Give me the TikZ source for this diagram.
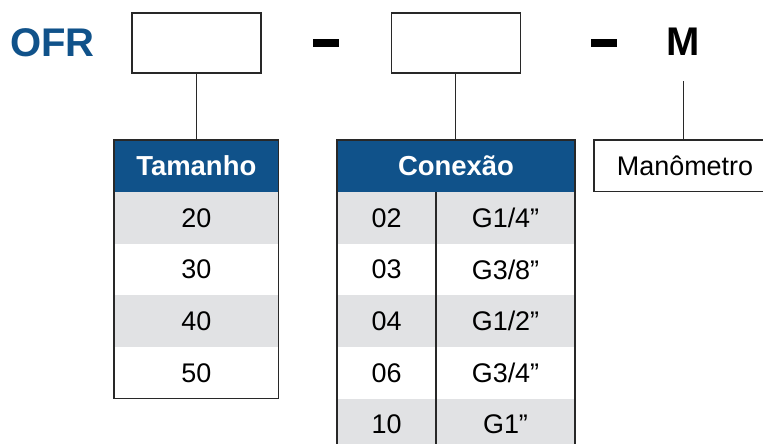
\documentclass[tikz,border=0pt]{standalone}
\usepackage{fontspec}
\setmainfont{Liberation Sans}
\definecolor{hblue}{RGB}{16,82,138}
\definecolor{rowgray}{RGB}{225,226,228}
\definecolor{linec}{RGB}{40,40,40}
\newcommand\bigfont{\fontsize{30}{32}\selectfont\bfseries}
\newcommand\hdrfont{\fontsize{20.6}{24}\selectfont\bfseries}
\newcommand\cellfont{\fontsize{20.2}{24}\selectfont}
\begin{document}
\begin{tikzpicture}[x=0.75pt,y=-0.75pt,
  slot/.style={draw=linec, line width=0.9pt, fill=white, minimum width=129*0.75pt, minimum height=60*0.75pt, inner sep=0pt, outer sep=0pt},
  dashbar/.style={fill=black, minimum width=26*0.75pt, minimum height=8*0.75pt, inner sep=0pt, outer sep=0pt},
  big/.style={font=\bigfont, inner sep=0pt},
  hdr/.style={fill=hblue, text=white, font=\hdrfont, inner sep=0pt, outer sep=0pt, minimum height=52*0.75pt},
  cell/.style={font=\cellfont, inner sep=0pt, outer sep=0pt, minimum height=51.6*0.75pt},
  grayrow/.style={fill=rowgray},
  conn/.style={draw=linec, line width=0.9pt},
  frame/.style={draw=linec, line width=0.9pt}]
\clip (0,0) rectangle (763,443);
\fill[white] (0,0) rectangle (763,443);
% top code line
\node[big, text=hblue, anchor=base] (ofr) at (52.5,56) {OFR};
\node[slot] (box1) at (196.5,43) {};
\node[dashbar] (dash1) at (326.3,43) {};
\node[slot] (box2) at (455.7,43) {};
\node[dashbar] (dash2) at (604.3,43) {};
\node[big, anchor=base] (m) at (683.5,55.7) {M};
% Tamanho table
\begin{scope}[every node/.append style={minimum width=164.5*0.75pt}]
\node[hdr] (tamh) at (196.3,166) {Tamanho};
\node[cell, grayrow] (tam1) at (196.3,218) {20};
\node[cell] (tam2) at (196.3,269.6) {30};
\node[cell, grayrow] (tam3) at (196.3,321.2) {40};
\node[cell] (tam4) at (196.3,372.8) {50};
\end{scope}
\draw[frame] (tamh.north west) rectangle (tam4.south east);
% Conexao table
\node[hdr, minimum width=238*0.75pt] (conh) at (456,166) {Conexão};
\begin{scope}[every node/.append style={minimum width=99*0.75pt}]
\node[cell, grayrow] (ca1) at (386.5,218) {02};
\node[cell] (ca2) at (386.5,269.6) {03};
\node[cell, grayrow] (ca3) at (386.5,321.2) {04};
\node[cell] (ca4) at (386.5,372.8) {06};
\node[cell, grayrow] (ca5) at (386.5,424.4) {10};
\end{scope}
\begin{scope}[every node/.append style={minimum width=139*0.75pt}]
\node[cell, grayrow] (cb1) at (505.5,218) {G1/4”};
\node[cell] (cb2) at (505.5,269.6) {G3/8”};
\node[cell, grayrow] (cb3) at (505.5,321.2) {G1/2”};
\node[cell] (cb4) at (505.5,372.8) {G3/4”};
\node[cell, grayrow] (cb5) at (505.5,424.4) {G1”};
\end{scope}
\draw[frame] (conh.north west) rectangle (cb5.south east);
\draw[frame] (ca1.north east) -- (ca5.south east);
% Manometro box
\node[frame, font=\cellfont, inner sep=0pt, minimum width=182*0.75pt, minimum height=51.5*0.75pt] (man) at (685,165.75) {Manômetro};
% connectors
\draw[conn] (box1.south) -- (box1.south |- tamh.north);
\draw[conn] (box2.south) -- (box2.south |- conh.north);
\coordinate (mtop) at (683.3,81);
\draw[conn] (mtop) -- (mtop |- man.north);
\end{tikzpicture}
\end{document}
